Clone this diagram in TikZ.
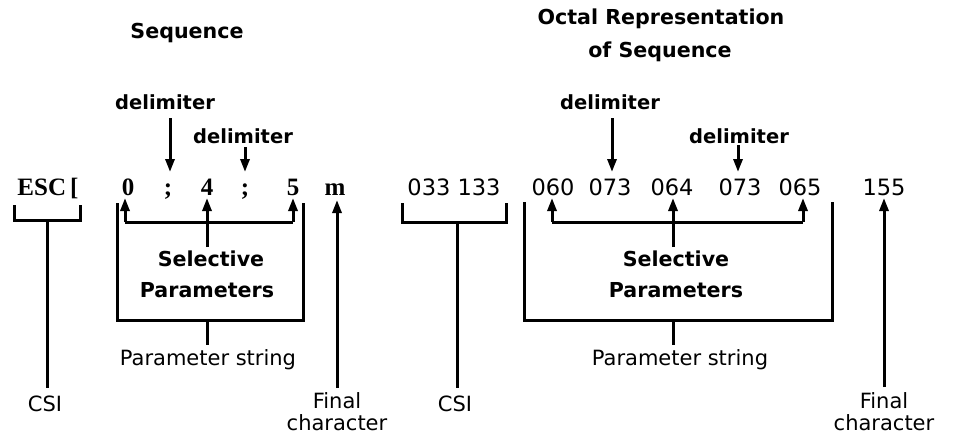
\documentclass[tikz,border=0pt]{standalone}
\usepackage{fontspec}
\setmainfont{DejaVu Sans}
\newfontfamily\serfont{Liberation Serif}
\usetikzlibrary{arrows.meta}
\begin{document}
\begin{tikzpicture}[x=1pt,y=-1pt,
  ln/.style={line width=3pt},
  arr/.style={line width=3pt,-{Triangle[width=9pt,length=13pt]}},
  lbl/.style={inner sep=0pt,anchor=base,font=\fontsize{21}{25}\selectfont},
  blbl/.style={inner sep=0pt,anchor=base,font=\fontsize{20.6}{25}\selectfont\bfseries},
  dlbl/.style={inner sep=0pt,anchor=base,font=\fontsize{19.5}{24}\selectfont\bfseries},
  oct/.style={inner sep=0pt,anchor=base,font=\fontsize{22.5}{27}\selectfont},
  seq/.style={inner sep=0pt,anchor=base,font=\serfont\bfseries\fontsize{25}{30}\selectfont},
]
\useasboundingbox (0,0) rectangle (954,436);

% titles
\node[blbl] (t1) at (187,39) {Sequence};
\node[blbl] (t2a) at (661,25) {Octal Representation};
\node[blbl] (t2b) at (660,58) {of Sequence};

% delimiters
\node[dlbl] (dL1) at (165,110) {delimiter};
\node[dlbl] (dL2) at (243,143) {delimiter};
\node[dlbl] (dR1) at (610,110) {delimiter};
\node[dlbl] (dR2) at (739,143) {delimiter};

% sequence row
\node[seq] (esc) at (48,195) {ESC\,[};
\node[seq] (s0) at (128,195) {0};
\node[seq] (sc1) at (168,195) {;};
\node[seq] (s4) at (207,195) {4};
\node[seq] (sc2) at (245,195) {;};
\node[seq] (s5) at (293,195) {5};
\node[seq] (sm) at (335,195) {m};

% octal row
\node[oct] (o1) at (454,195) {033 133};
\node[oct] (o2) at (553,195) {060};
\node[oct] (o3) at (610,195) {073};
\node[oct] (o4) at (672,195) {064};
\node[oct] (o5) at (740,195) {073};
\node[oct] (o6) at (800,195) {065};
\node[oct] (o7) at (884,195) {155};

% lower labels, left
\node[blbl] (selL) at (211,266) {Selective};
\node[blbl] (parL) at (207,297) {Parameters};
\node[lbl] (psL) at (208,365) {Parameter string};
\node[lbl] (csiL) at (45,411) {CSI};
\node[lbl] (finL) at (337,408) {Final};
\node[lbl] (chL) at (337,430) {character};

% lower labels, right
\node[blbl] (selR) at (676,266) {Selective};
\node[blbl] (parR) at (676,297) {Parameters};
\node[lbl] (psR) at (680,365) {Parameter string};
\node[lbl] (csiR) at (455,411) {CSI};
\node[lbl] (finR) at (884,408) {Final};
\node[lbl] (chR) at (884,430) {character};

% ---- left connectors ----
\coordinate (dL1s) at (170,118); \coordinate (dL1e) at (170,172);
\coordinate (dL2s) at (245,147); \coordinate (dL2e) at (245,172);
\draw[arr] (dL1s) -- (dL1e);
\draw[arr] (dL2s) -- (dL2e);

% ESC bracket
\draw[ln] (14,205) -- (14,220) -- (80,220) -- (80,205);
\coordinate (escB) at (47,220); \coordinate (csiLt) at (47,388);
\draw[ln] (escB) -- (csiLt);

% parameter box
\draw[ln] (117,203) -- (117,320) -- (303,320) -- (303,203);
\coordinate (boxLb) at (207,320); \coordinate (psLt) at (207,345);
\draw[ln] (boxLb) -- (psLt);

% selective arrows
\coordinate (hL0) at (125,222); \coordinate (hL5) at (293,222);
\coordinate (aL0) at (125,198); \coordinate (aL5) at (293,198);
\coordinate (selLt) at (207,247); \coordinate (aL4) at (207,198);
\draw[ln] (hL0) -- (hL5);
\draw[arr] (hL0) -- (aL0);
\draw[arr] (hL5) -- (aL5);
\draw[arr] (selLt) -- (aL4);

% final character arrow
\coordinate (finLt) at (337,388); \coordinate (aLm) at (337,200);
\draw[arr] (finLt) -- (aLm);

% ---- right connectors ----
\coordinate (dR1s) at (612,118); \coordinate (dR1e) at (612,172);
\coordinate (dR2s) at (738,145); \coordinate (dR2e) at (738,172);
\draw[arr] (dR1s) -- (dR1e);
\draw[arr] (dR2s) -- (dR2e);

% CSI bracket
\draw[ln] (402,203) -- (402,222) -- (506,222) -- (506,203);
\coordinate (csiB) at (457,222); \coordinate (csiRt) at (457,388);
\draw[ln] (csiB) -- (csiRt);

% parameter box
\draw[ln] (524,202) -- (524,320) -- (832,320) -- (832,202);
\coordinate (boxRb) at (673,320); \coordinate (psRt) at (673,345);
\draw[ln] (boxRb) -- (psRt);

% selective arrows
\coordinate (hR0) at (552,222); \coordinate (hR5) at (803,222);
\coordinate (aR0) at (552,198); \coordinate (aR5) at (803,198);
\coordinate (selRt) at (673,247); \coordinate (aR4) at (673,198);
\draw[ln] (hR0) -- (hR5);
\draw[arr] (hR0) -- (aR0);
\draw[arr] (hR5) -- (aR5);
\draw[arr] (selRt) -- (aR4);

% final character arrow
\coordinate (finRt) at (884,387); \coordinate (aR7) at (884,198);
\draw[arr] (finRt) -- (aR7);
\end{tikzpicture}
\end{document}
